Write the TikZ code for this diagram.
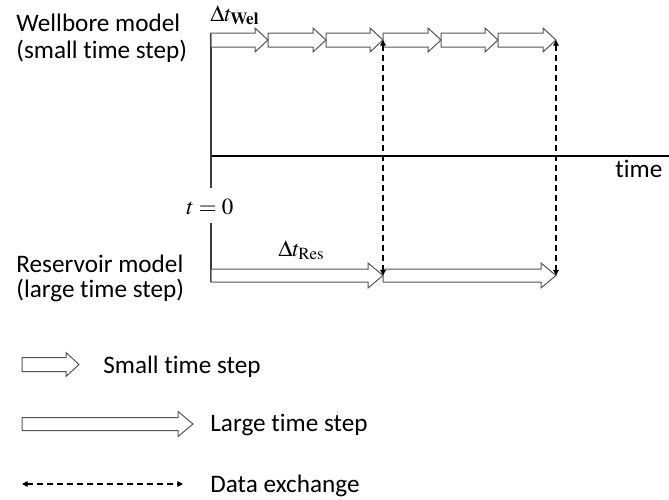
\documentclass[tikz,border=0pt]{standalone}
\usepackage{mathptmx}
\usepackage[no-math]{fontspec}
\setmainfont{Carlito}[Ligatures=NoCommon]
\usetikzlibrary{arrows.meta}
\definecolor{edgegray}{RGB}{85,85,85}
\definecolor{axisgray}{RGB}{60,60,60}
% hollow block arrow: name, start, end, centre, half shaft, half head, head length
\newcommand{\steparrow}[7]{%
  \filldraw[fill=white,draw=edgegray,line width=.5pt]
    (#2,{#4-#5}) -- ({#3-#7},{#4-#5}) -- ({#3-#7},{#4-#6}) -- (#3,#4)
    -- ({#3-#7},{#4+#6}) -- ({#3-#7},{#4+#5}) -- (#2,{#4+#5}) -- cycle;
  \coordinate (#1) at (#3,#4);
}
\newcommand{\smallstep}[4]{\steparrow{#1}{#2}{#3}{#4}{7}{12}{13}}
\newcommand{\largestep}[4]{\steparrow{#1}{#2}{#3}{#4}{6.5}{12.5}{15}}

\begin{document}
\begin{tikzpicture}[x=.5pt,y=-.5pt,
    lbl/.style={anchor=base west,inner sep=0pt,font=\fontsize{12.6}{14}\selectfont},
    mathlbl/.style={anchor=base west,inner sep=0pt,font=\fontsize{11.5}{13}\selectfont},
    xchg/.style={draw=black,line width=.6pt,dash pattern=on 3pt off 2pt,
      {Triangle[length=2.8pt,width=2.8pt]}-{Triangle[length=2.8pt,width=2.8pt]}},
    tick/.style={draw=axisgray,line width=.7pt}]
  \useasboundingbox (0,0) rectangle (669,499);

  % time axis and t = 0 marks
  \coordinate (origin) at (211,156);
  \coordinate (tmax) at (669,156);
  \coordinate (weltop) at (211,33);
  \coordinate (welbot) at (211,188);
  \coordinate (restop) at (211,223);
  \coordinate (resbot) at (211,282);
  \draw[line width=1pt] (origin) -- (tmax);
  \draw[tick] (weltop) -- (welbot);
  \draw[tick] (restop) -- (resbot);

  % wellbore steps
  \foreach \a/\b [count=\i] in {211/268,268/326,326/383,383/441,441/498,498/556}
    {\smallstep{w\i}{\a}{\b}{40}}
  % reservoir steps
  \largestep{r1}{211}{383}{275.5}
  \largestep{r2}{383}{556}{275.5}

  \draw[xchg] (w3) -- (r1);
  \draw[xchg] (w6) -- (r2);

  \node[lbl] (wel) at (16,31) {Wellbore model};
  \node[lbl] (welsub) at (16,58) {(small time step)};
  \node[lbl] (res) at (16,272) {Reservoir model};
  \node[lbl] (ressub) at (16,297) {(large time step)};
  \node[lbl] (time) at (615,177) {time};
  \node[mathlbl] (dwel) at (210,21) {$\Delta t_{\mathbf{Wel}}$};
  \node[mathlbl] (dres) at (278,256) {$\Delta t_{\mathrm{Res}}$};
  \node[mathlbl] (tzero) at (186,214) {$t=0$};

  % legend
  \smallstep{lsmall}{22}{79}{364.5}
  \largestep{llarge}{22}{193}{424}
  \coordinate (lxa) at (22,484);
  \coordinate (lxb) at (183,484);
  \draw[xchg] (lxa) -- (lxb);
  \node[lbl] (small) at (103,373) {Small time step};
  \node[lbl] (large) at (210,431) {Large time step};
  \node[lbl] (xch) at (210,492) {Data exchange};
\end{tikzpicture}
\end{document}
